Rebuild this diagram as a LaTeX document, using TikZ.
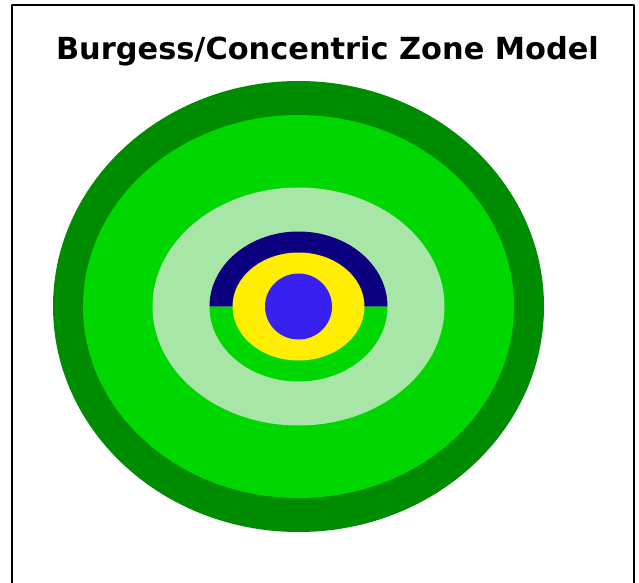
\documentclass[tikz,border=0pt]{standalone}
\usepackage{fontspec}
\setmainfont{DejaVu Sans}
\usepackage{xcolor}
\usepackage{tikz}

\definecolor{outerzone}{RGB}{0,140,0}
\definecolor{commuterzone}{RGB}{0,214,0}
\definecolor{residzone}{RGB}{168,230,168}
\definecolor{factoryzone}{RGB}{12,0,128}
\definecolor{transzone}{RGB}{255,238,0}
\definecolor{cbdzone}{RGB}{56,32,240}

\begin{document}
\begin{tikzpicture}[x=1pt, y=1pt, line join=round]
    \useasboundingbox (0,0) rectangle (639,582);
    \fill[white] (0,0) rectangle (639,582);

    % --- Frame (bottom edge runs off the page) ---
    \draw[line width=2pt] (12,-2) -- (12,577) -- (634,577) -- (634,-2);

    % --- Title ---
    \node[font=\bfseries\fontsize{30.4}{34}\selectfont, anchor=base] (title)
        at (327.5, 522) {Burgess/Concentric Zone Model};

    % --- Zones, outside in ---
    \coordinate (centre) at (298.5, 275.5);
    \fill[outerzone] (centre) ellipse [x radius=245.5, y radius=225.5];
    \fill[commuterzone] (centre) ellipse [x radius=215.5, y radius=191.5];
    \fill[residzone] (centre) ellipse [x radius=146, y radius=119];

    % --- Inner ring split in two halves ---
    \fill[factoryzone] ([xshift=-89pt]centre)
        arc[start angle=180, end angle=0, x radius=89, y radius=75] -- cycle;
    \fill[commuterzone] ([xshift=-89pt]centre)
        arc[start angle=180, end angle=360, x radius=89, y radius=75] -- cycle;

    % --- Transition zone and CBD ---
    \fill[transzone] (centre) ellipse [x radius=66, y radius=54];
    \fill[cbdzone] (centre) ellipse [x radius=33.5, y radius=33];

\end{tikzpicture}
\end{document}
